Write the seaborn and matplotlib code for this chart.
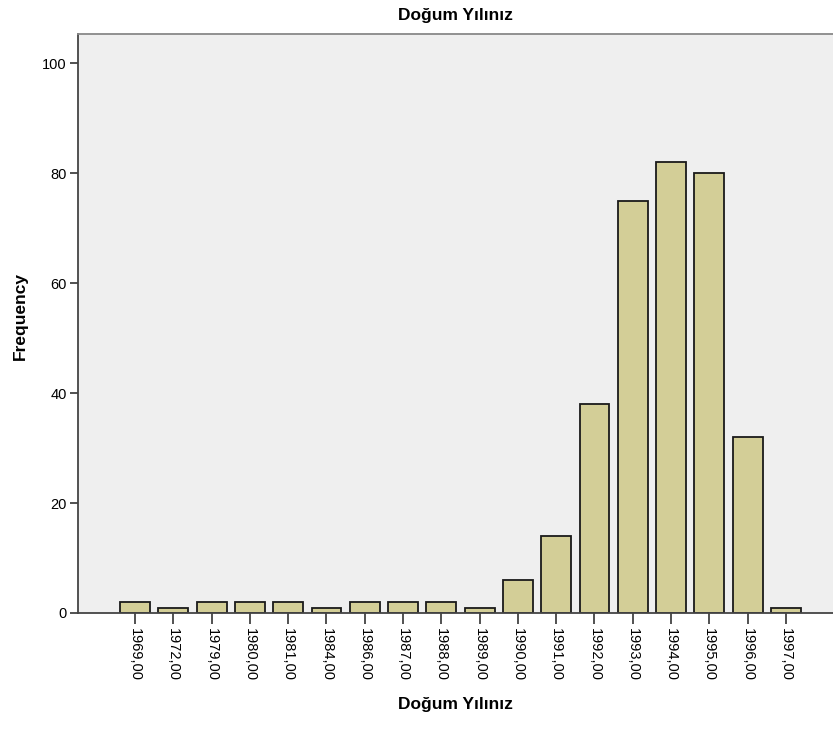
import matplotlib
matplotlib.use("Agg")
import matplotlib.pyplot as plt
import seaborn as sns
import pandas as pd

years = ["1969,00", "1972,00", "1979,00", "1980,00", "1981,00", "1984,00", "1986,00",
         "1987,00", "1988,00", "1989,00", "1990,00", "1991,00", "1992,00", "1993,00",
         "1994,00", "1995,00", "1996,00", "1997,00"]
freq = [2, 1, 2, 2, 2, 1, 2, 2, 2, 1, 6, 14, 38, 75, 82, 80, 32, 1]
yticks = [0, 20, 40, 60, 80, 100]

sns.set_theme(style="white")
plt.rcParams['font.family'] = ['Liberation Sans', 'DejaVu Sans']
plt.rcParams['text.color'] = 'black'
plt.rcParams['axes.labelcolor'] = 'black'
plt.rcParams['xtick.color'] = 'black'
plt.rcParams['ytick.color'] = 'black'

df = pd.DataFrame({"year": years, "freq": freq})

fig = plt.figure(figsize=(8.33, 7.29), dpi=100)
ax = fig.add_axes([78/833, 1 - 613/729, 1 - 78/833, (613 - 34)/729])
ax.set_facecolor("#EFEFEF")

sns.barplot(data=df, x="year", y="freq", ax=ax, color="#D3CE97",
            edgecolor="#1a1a1a", linewidth=1.3, width=0.78, saturation=1)

ax.set_xlim(-1.49, 18.23)
ax.set_ylim(0, 105.3)
ax.set_yticks(yticks)
ax.set_yticklabels([str(t) for t in yticks], fontsize=10.5)
ax.tick_params(axis="y", length=6, width=1.2, color="#333333", labelcolor="black",
               direction="out", left=True, pad=2)
ax.tick_params(axis="x", length=8, width=1.2, color="#333333", labelcolor="black",
               direction="out", bottom=True, pad=3)
for lab in ax.get_xticklabels():
    lab.set_rotation(270)
    lab.set_fontsize(10.5)
    lab.set_va("top")
    lab.set_ha("center")

for s in ["left", "bottom"]:
    ax.spines[s].set_color("#444444")
    ax.spines[s].set_linewidth(1.3)
ax.spines["top"].set_color("#888888")
ax.spines["top"].set_linewidth(1.3)
ax.spines["right"].set_visible(False)

ax.set_xlabel("Doğum Yılınız", fontsize=12.5, fontweight="bold", color="black")
ax.xaxis.set_label_coords(0.5, -(697 - 613) / (613 - 34))
ax.set_ylabel("Frequency", fontsize=12.5, fontweight="bold", color="black")
ax.yaxis.set_label_coords(-(78 - 28) / (833 - 78), (613 - 316) / (613 - 34))
ax.set_title("Doğum Yılınız", fontsize=12.5, fontweight="bold", pad=10, color="black")

fig.savefig("out.png", dpi=100)
